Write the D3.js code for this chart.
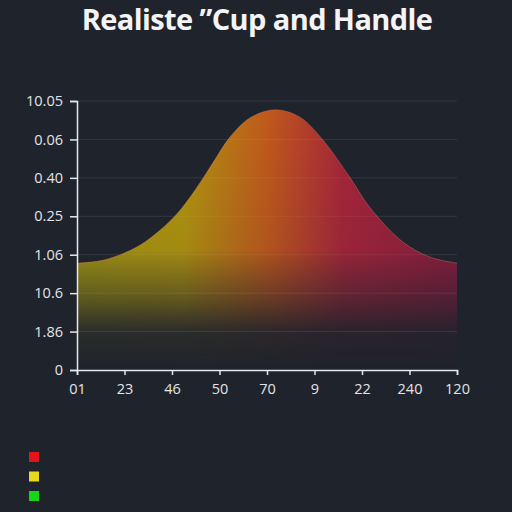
<!DOCTYPE html>
<html>
<head>
<meta charset="utf-8">
<script src="https://cdn.jsdelivr.net/npm/d3@7"></script>
<style>
  html, body { margin: 0; padding: 0; background: #1f232c; }
  svg { display: block; }
</style>
</head>
<body>
<div id="chart"></div>
<script>
// chart values
const title = 'Realiste \u201DCup and Handle'
const xLabels = ['01', '23', '46', '50', '70', '9', '22', '240', '120']
const yLabels = ['0', '1.86', '10.6', '1.06', '0.25', '0.40', '0.06', '10.05']
// curve position (in x-tick steps) and height (in y-tick steps)
const curveX = [0, 0.48, 0.91, 1.33, 1.75, 2.17, 2.59, 2.86, 3.22, 3.64, 4.17, 4.69, 5.18, 5.75, 6.17, 6.86, 7.43, 8]
const curveY = [2.78, 2.84, 3.0, 3.25, 3.64, 4.16, 4.87, 5.39, 6.06, 6.56, 6.77, 6.58, 5.98, 5.0, 4.22, 3.33, 2.94, 2.78]
const legendColors = ['#e3141a', '#e6d81e', '#17d61a']

const width = 512,
  height = 512,
  marginLeft = 77,
  marginRight = 55,
  marginTop = 101,
  marginBottom = 142

let svg = d3.select('#chart')
  .append('svg')
  .attr('width', width)
  .attr('height', height)

svg.append('rect')
  .attr('width', width).attr('height', height)
  .attr('fill', '#1f232c')

const xScale = d3.scaleLinear()
  .domain([0, xLabels.length - 1])
  .range([marginLeft, width - marginRight])

const yScale = d3.scaleLinear()
  .domain([0, yLabels.length - 1])
  .range([height - marginBottom, marginTop])

// gradients
const defs = svg.append('defs')
const hGrad = defs.append('linearGradient')
  .attr('id', 'hgrad')
  .attr('gradientUnits', 'userSpaceOnUse')
  .attr('x1', xScale(0)).attr('x2', xScale(8))
  .attr('y1', 0).attr('y2', 0)
hGrad.selectAll('stop')
  .data([[0, '#a59a12'], [0.28, '#b3960f'], [0.5, '#c25a1c'], [0.7, '#a8253a'], [1, '#8c1c40']])
  .enter().append('stop')
  .attr('offset', d => d[0])
  .attr('stop-color', d => d[1])

const vGrad = defs.append('linearGradient')
  .attr('id', 'vgrad')
  .attr('gradientUnits', 'userSpaceOnUse')
  .attr('x1', 0).attr('x2', 0)
  .attr('y1', yScale(7)).attr('y2', yScale(0))
vGrad.selectAll('stop')
  .data([[0, 1], [0.55, 0.9], [0.72, 0.5], [0.86, 0.08], [1, 0]])
  .enter().append('stop')
  .attr('offset', d => d[0])
  .attr('stop-color', 'white')
  .attr('stop-opacity', d => d[1])

defs.append('mask').attr('id', 'fade')
  .append('rect')
  .attr('x', 0).attr('y', 0).attr('width', width).attr('height', height)
  .attr('fill', 'url(#vgrad)')

// grid lines
svg.append('g')
  .selectAll('line')
  .data(d3.range(1, yLabels.length))
  .enter().append('line')
  .attr('x1', xScale(0)).attr('x2', xScale(8))
  .attr('y1', d => yScale(d)).attr('y2', d => yScale(d))
  .attr('stroke', '#2a2f3a')
  .attr('stroke-width', 1)

// area
const points = curveX.map((x, i) => [x, curveY[i]])
const area = d3.area()
  .x(d => xScale(d[0]))
  .y0(yScale(0))
  .y1(d => yScale(d[1]))
  .curve(d3.curveCatmullRom)

svg.append('path')
  .datum(points)
  .attr('d', area)
  .attr('fill', 'url(#hgrad)')
  .attr('mask', 'url(#fade)')

svg.append('path')
  .datum(points)
  .attr('d', d3.line().x(d => xScale(d[0])).y(d => yScale(d[1])).curve(d3.curveCatmullRom))
  .attr('fill', 'none')
  .attr('stroke', '#d07a5a')
  .attr('stroke-opacity', 0.5)
  .attr('stroke-width', 0.8)

// faint grid over the fill
svg.append('g')
  .selectAll('line')
  .data(d3.range(1, yLabels.length))
  .enter().append('line')
  .attr('x1', xScale(0)).attr('x2', xScale(8))
  .attr('y1', d => yScale(d)).attr('y2', d => yScale(d))
  .attr('stroke', '#ffffff')
  .attr('stroke-opacity', 0.05)

// axes
const xAxis = d3.axisBottom(xScale)
  .tickValues(d3.range(xLabels.length))
  .tickFormat(i => xLabels[i])
  .tickSizeOuter(0)
  .tickSize(5)
const yAxis = d3.axisLeft(yScale)
  .tickValues(d3.range(yLabels.length))
  .tickFormat(i => yLabels[i])
  .tickSizeOuter(0)
  .tickSize(7)

const gx = svg.append('g')
  .attr('transform', `translate(0,${yScale(0)})`)
  .call(xAxis)
const gy = svg.append('g')
  .attr('transform', `translate(${xScale(0)},0)`)
  .call(yAxis)

;[gx, gy].forEach(g => {
  g.selectAll('path, line').attr('stroke', '#e6e8ec').attr('stroke-width', 1.5)
  g.selectAll('text')
    .attr('fill', '#e2e4e8')
    .style('font-family', '"Open Sans", sans-serif')
    .style('font-size', '14.5px')
})
gx.selectAll('text').attr('y', 9).attr('dy', '1em')
gy.selectAll('text').attr('x', -14)

// title
svg.append('text')
  .attr('x', 257).attr('y', 30)
  .attr('text-anchor', 'middle')
  .attr('fill', '#f4f4f6')
  .style('font-family', '"Open Sans", sans-serif')
  .style('font-weight', 'bold')
  .style('font-size', '29px')
  .style('letter-spacing', '-0.6px')
  .text(title)

// legend swatches
svg.append('g')
  .selectAll('rect')
  .data(legendColors)
  .enter().append('rect')
  .attr('x', 29)
  .attr('y', (d, i) => 452 + i * 19.5)
  .attr('width', 10).attr('height', 10)
  .attr('fill', d => d)
</script>
</body>
</html>
